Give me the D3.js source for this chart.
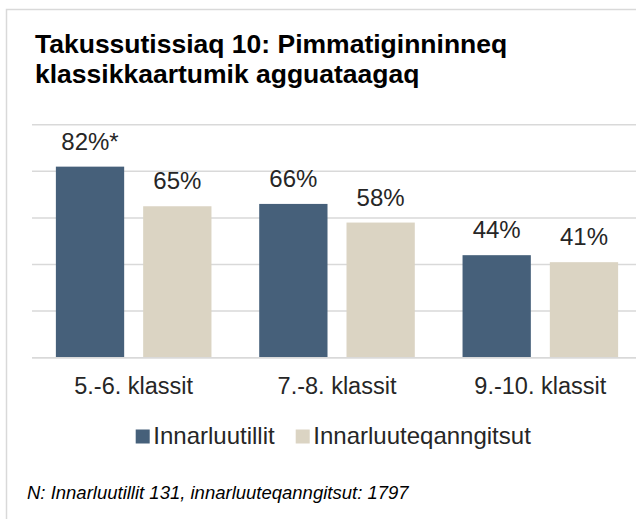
<!DOCTYPE html>
<html>
<head>
<meta charset="utf-8">
<script src="https://cdn.jsdelivr.net/npm/d3@7"></script>
<style>
  html, body { margin: 0; padding: 0; background: #fff; }
  svg { display: block; font-family: "Liberation Sans", Arial, sans-serif; }
</style>
</head>
<body>
<svg width="636" height="519"></svg>
<script>
// chart data
var categories = ['5.-6. klassit', '7.-8. klassit', '9.-10. klassit']
var seriesNames = ['Innarluutillit', 'Innarluuteqanngitsut']
var innarluutillit = [82, 66, 44]
var innarluuteqanngitsut = [65, 58, 41]
var valueLabels = [['82%*', '66%', '44%'], ['65%', '58%', '41%']]
var yTicks = [0, 20, 40, 60, 80, 100]

var colors = ['#46607a', '#dbd4c3']
var textColor = '#262626'
var gridColor = '#d9d9d9'

var svg = d3.select('svg')

// outer frame (runs off the right and bottom edges)
svg.append('rect')
  .attr('x', 6.5).attr('y', 9.5)
  .attr('width', 700).attr('height', 600)
  .attr('fill', '#fff')
  .attr('stroke', gridColor)
  .attr('stroke-width', 1.5)

// title
var title = svg.append('text')
  .attr('font-size', 26.5)
  .attr('font-weight', 'bold')
  .attr('fill', '#000')
title.append('tspan').attr('x', 35).attr('y', 53).text('Takussutissiaq 10: Pimmatiginninneq')
title.append('tspan').attr('x', 35).attr('y', 83).text('klassikkaartumik agguataagaq')

// scales
var x0 = d3.scaleBand().domain(categories).range([32, 642]).paddingInner(0).paddingOuter(0)
var x1 = d3.scaleBand().domain(seriesNames).range([0, x0.bandwidth()]).paddingInner(0.2176).paddingOuter(0.2735)
var y = d3.scaleLinear().domain([0, 100]).range([357.7, 124.7])

// gridlines
svg.append('g').selectAll('line')
  .data(yTicks)
  .enter().append('line')
  .attr('x1', 32).attr('x2', 642)
  .attr('y1', function(d) {return y(d)})
  .attr('y2', function(d) {return y(d)})
  .attr('stroke', gridColor)
  .attr('stroke-width', 1.5)

var rows = categories.map(function(c, i) {
  return [
    {cat: c, s: seriesNames[0], v: innarluutillit[i], label: valueLabels[0][i], k: 0},
    {cat: c, s: seriesNames[1], v: innarluuteqanngitsut[i], label: valueLabels[1][i], k: 1}
  ]
})

var groups = svg.append('g').selectAll('g')
  .data(rows)
  .enter().append('g')
  .attr('transform', function(d) {return 'translate(' + x0(d[0].cat) + ',0)'})

groups.selectAll('rect')
  .data(function(d) {return d})
  .enter().append('rect')
  .attr('x', function(d) {return x1(d.s)})
  .attr('width', x1.bandwidth())
  .attr('y', function(d) {return y(d.v)})
  .attr('height', function(d) {return y(0) - y(d.v)})
  .attr('fill', function(d) {return colors[d.k]})

groups.selectAll('text')
  .data(function(d) {return d})
  .enter().append('text')
  .attr('x', function(d) {return x1(d.s) + x1.bandwidth() / 2})
  .attr('y', function(d) {return y(d.v) - 16.8})
  .attr('text-anchor', 'middle')
  .attr('font-size', 24)
  .attr('fill', textColor)
  .text(function(d) {return d.label})

// baseline on top of bars
svg.append('line')
  .attr('x1', 32).attr('x2', 642)
  .attr('y1', y(0)).attr('y2', y(0))
  .attr('stroke', gridColor)
  .attr('stroke-width', 1.5)

// category labels
svg.append('g').selectAll('text')
  .data(categories)
  .enter().append('text')
  .attr('x', function(d) {return x0(d) + x0.bandwidth() / 2})
  .attr('y', 394.3)
  .attr('text-anchor', 'middle')
  .attr('font-size', 23.5)
  .attr('fill', textColor)
  .text(function(d) {return d})

// legend
var legend = svg.append('g')
var lx = 135.7
seriesNames.forEach(function(name, i) {
  legend.append('rect')
    .attr('x', lx).attr('y', 429.5)
    .attr('width', 14).attr('height', 14)
    .attr('fill', colors[i])
  var t = legend.append('text')
    .attr('x', lx + 17.6).attr('y', 444)
    .attr('font-size', 24)
    .attr('fill', textColor)
    .text(name)
  lx = lx + 17.6 + t.node().getComputedTextLength() + 21
})

// footnote
svg.append('text')
  .attr('x', 27).attr('y', 499)
  .attr('font-size', 18.5)
  .attr('font-style', 'italic')
  .attr('fill', '#000')
  .text('N: Innarluutillit 131, innarluuteqanngitsut: 1797')
</script>
</body>
</html>
